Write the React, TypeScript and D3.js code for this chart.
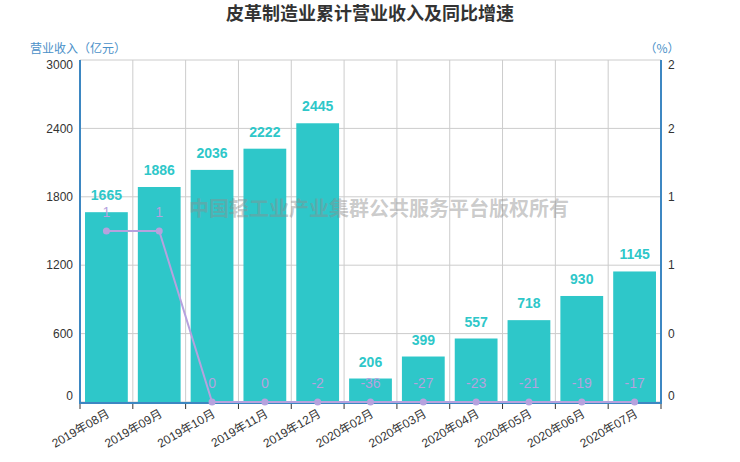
import React from "react";
import * as d3 from "d3";

const categories = [
  "2019年08月",
  "2019年09月",
  "2019年10月",
  "2019年11月",
  "2019年12月",
  "2020年02月",
  "2020年03月",
  "2020年04月",
  "2020年05月",
  "2020年06月",
  "2020年07月",
];
const revenue = [1665, 1886, 2036, 2222, 2445, 206, 399, 557, 718, 930, 1145];
const growth = [1.25, 1.25, 0, 0, -2, -36, -27, -23, -21, -19, -17];
const leftTicks = [0, 600, 1200, 1800, 2400, 3000];
const rightTicks = [0, 0.5, 1, 1.5, 2, 2.5];

const W = 740;
const H = 462;
const margin = { top: 60, right: 79, bottom: 60, left: 80 };
const FONT = "'Liberation Sans', 'Noto Sans CJK SC', sans-serif";
const CJK = "'Noto Sans CJK SC', 'Liberation Sans', sans-serif";
const TEAL = "#2ec7c9";
const PURPLE = "#b6a2de";
const AXIS = "#3d87c2";

const App: React.FC = () => {
  const innerW = W - margin.left - margin.right;
  const innerH = H - margin.top - margin.bottom;

  const x = d3
    .scaleBand<string>()
    .domain(categories)
    .range([margin.left, margin.left + innerW])
    .paddingInner(0.19)
    .paddingOuter(0.095);

  const yLeft = d3
    .scaleLinear()
    .domain([0, 3000])
    .range([margin.top + innerH, margin.top]);

  const yRight = d3
    .scaleLinear()
    .domain([0, 2.5])
    .range([margin.top + innerH, margin.top])
    .clamp(true);

  const step = innerW / categories.length;
  const bounds = d3.range(categories.length + 1).map((i) => margin.left + i * step);
  const cx = (c: string) => (x(c) as number) + x.bandwidth() / 2;

  const points = categories.map((c, i) => [cx(c), yRight(growth[i])] as [number, number]);
  const line = d3.line()(points) as string;

  const base = margin.top + innerH;
  const labelShift = (i: number, n: number) => (i === 0 ? -6 : i === n - 1 ? 5 : 0);

  return (
    <div style={{ position: "absolute", left: 0, top: 0 }}>
      <svg width={W} height={H} style={{ display: "block", background: "#fff" }}>
        {/* title */}
        <text
          x={W / 2}
          y={20}
          textAnchor="middle"
          fontFamily={CJK}
          fontSize={18}
          fontWeight="bold"
          fill="#333"
        >
          皮革制造业累计营业收入及同比增速
        </text>

        {/* horizontal grid */}
        {leftTicks.map((t) => (
          <line
            key={"h" + t}
            x1={margin.left}
            x2={margin.left + innerW}
            y1={yLeft(t)}
            y2={yLeft(t)}
            stroke="#ccc"
            strokeWidth={1}
          />
        ))}
        {/* vertical grid */}
        {bounds.map((b, i) => (
          <line
            key={"v" + i}
            x1={b}
            x2={b}
            y1={margin.top}
            y2={base}
            stroke="#ccc"
            strokeWidth={1}
          />
        ))}

        {/* bars */}
        {categories.map((c, i) => (
          <rect
            key={"b" + c}
            x={x(c)}
            y={yLeft(revenue[i])}
            width={x.bandwidth()}
            height={base - yLeft(revenue[i])}
            fill={TEAL}
          />
        ))}

        {/* watermark */}
        <text
          x={379}
          y={216}
          textAnchor="middle"
          fontFamily={CJK}
          fontSize={20}
          fontWeight="bold"
          fill="#8c8c8c"
          fillOpacity={0.45}
        >
          中国轻工业产业集群公共服务平台版权所有
        </text>

        {/* bar labels */}
        {categories.map((c, i) => (
          <text
            key={"bl" + c}
            x={cx(c)}
            y={yLeft(revenue[i]) - 12}
            textAnchor="middle"
            fontFamily={FONT}
            fontSize={14}
            fontWeight="bold"
            fill={TEAL}
          >
            {revenue[i]}
          </text>
        ))}

        {/* axes */}
        <line x1={margin.left} x2={margin.left + innerW} y1={base + 1} y2={base + 1} stroke={AXIS} strokeWidth={2} />
        <line x1={margin.left} x2={margin.left} y1={margin.top} y2={base + 2} stroke={AXIS} strokeWidth={2} />
        <line x1={margin.left + innerW} x2={margin.left + innerW} y1={margin.top} y2={base + 2} stroke={AXIS} strokeWidth={2} />

        {/* growth line */}
        <path d={line} fill="none" stroke={PURPLE} strokeWidth={2} />
        {points.map((p, i) => (
          <circle key={"p" + i} cx={p[0]} cy={p[1]} r={3.5} fill={PURPLE} />
        ))}
        {points.map((p, i) => (
          <text
            key={"pl" + i}
            x={p[0]}
            y={p[1] - 14}
            textAnchor="middle"
            fontFamily={FONT}
            fontSize={14}
            fill={PURPLE}
          >
            {Math.floor(growth[i])}
          </text>
        ))}

        {/* x ticks and labels */}
        {bounds.map((b, i) => (
          <line key={"xt" + i} x1={b} x2={b} y1={base + 2} y2={base + 7} stroke="#333" strokeWidth={1} />
        ))}
        {categories.map((c) => (
          <text
            key={"xl" + c}
            transform={`translate(${cx(c) + 4},${base + 14}) rotate(-30)`}
            textAnchor="end"
            fontFamily={FONT}
            fontSize={12}
            fill="#333"
          >
            {c}
          </text>
        ))}

        {/* left axis labels */}
        {leftTicks.map((t, i) => (
          <text
            key={"ll" + t}
            x={margin.left - 7}
            y={yLeft(t) + labelShift(i, leftTicks.length)}
            dy="0.35em"
            textAnchor="end"
            fontFamily={FONT}
            fontSize={12}
            fill="#333"
          >
            {t}
          </text>
        ))}
        {/* right axis labels */}
        {rightTicks.map((t, i) => (
          <text
            key={"rl" + t}
            x={margin.left + innerW + 7}
            y={yRight(t) + labelShift(i, rightTicks.length)}
            dy="0.35em"
            textAnchor="start"
            fontFamily={FONT}
            fontSize={12}
            fill="#333"
          >
            {Math.floor(t)}
          </text>
        ))}

        {/* axis titles */}
        <text x={margin.left - 2} y={53} textAnchor="middle" fontFamily={CJK} fontSize={12} fill="#4a90c8">
          营业收入（亿元）
        </text>
        <text x={margin.left + innerW + 1} y={53} textAnchor="middle" fontFamily={CJK} fontSize={12} fill="#4a90c8">
          （%）
        </text>
      </svg>
    </div>
  );
};

export default App;
